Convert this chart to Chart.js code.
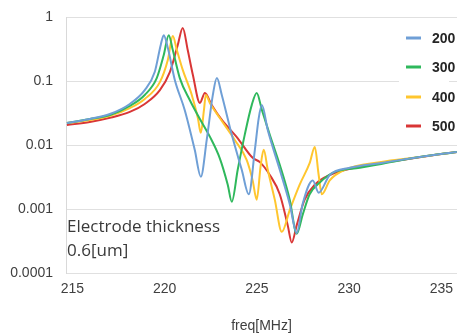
<!DOCTYPE html>
<html>
<head>
<meta charset="utf-8">
<script src="https://cdn.jsdelivr.net/npm/chart.js@4/dist/chart.umd.min.js"></script>
<style>
html,body{margin:0;padding:0;background:#fff;}
#wrap{width:459px;height:335px;position:relative;}
</style>
</head>
<body>
<div id="wrap"><canvas id="c" width="459" height="335"></canvas></div>
<script>
// ---- data (freq in MHz, magnitude) ----
const seriesNames = ["200", "300", "400", "500"];
const freq200 = [214.7,215.94,217.03,218.11,218.92,219.46,219.79,219.95,220.17,220.55,221.09,221.63,221.96,222.28,222.61,222.83,223.10,223.64,224.18,224.56,224.89,225.10,225.27,225.59,226.24,226.78,227.16,227.48,228.03,228.35,228.95,230.04,231.66,233.83,235.84];
const val200  = [0.022,0.0255,0.0305,0.0438,0.072,0.138,0.37,0.52,0.33,0.104,0.035,0.0084,0.0032,0.012,0.06,0.111,0.06,0.0144,0.0041,0.0017,0.0084,0.0263,0.042,0.0171,0.0041,0.0012,0.00042,0.0012,0.0028,0.0018,0.0034,0.0044,0.0052,0.0065,0.0078];
const freq300 = [214.7,215.94,217.03,218.11,218.92,219.57,219.95,220.22,220.44,220.82,221.36,221.91,222.45,222.99,223.42,223.64,223.96,224.34,224.72,224.99,225.27,225.70,226.24,226.78,227.16,227.48,227.86,228.41,229.22,230.58,231.66,233.83,235.84];
const val300  = [0.022,0.0255,0.0294,0.0407,0.0605,0.111,0.255,0.52,0.305,0.111,0.0505,0.0255,0.0135,0.0062,0.0024,0.0013,0.0041,0.0144,0.042,0.065,0.0354,0.0144,0.0049,0.0014,0.00041,0.00081,0.0017,0.0026,0.0038,0.0044,0.0050,0.0065,0.0078];
const freq400 = [214.7,215.94,217.03,218.11,218.92,219.74,220.17,220.44,220.66,220.98,221.47,221.80,221.96,222.13,222.23,222.45,222.99,223.80,224.45,224.77,224.99,225.21,225.37,225.59,225.97,226.35,226.78,227.32,227.86,228.14,228.35,228.52,228.95,229.76,231.66,233.83,235.84];
const val400  = [0.022,0.0245,0.0285,0.0377,0.0525,0.096,0.213,0.505,0.305,0.149,0.0605,0.0264,0.0155,0.0354,0.0605,0.0455,0.0264,0.012,0.0058,0.0028,0.0014,0.0049,0.0084,0.0041,0.0014,0.00044,0.00096,0.0024,0.0052,0.0093,0.0034,0.0017,0.0028,0.0041,0.0054,0.0065,0.0078];
const freq500 = [214.7,215.94,217.03,218.11,218.92,219.74,220.28,220.71,220.98,221.25,221.53,221.91,222.18,222.55,223.10,223.91,224.77,225.16,225.70,226.24,226.67,226.89,227.16,227.59,228.14,228.95,230.58,232.75,235.84];
const val500  = [0.0206,0.0229,0.0266,0.0329,0.0438,0.072,0.138,0.365,0.673,0.305,0.124,0.0455,0.065,0.0422,0.0246,0.0133,0.0063,0.0054,0.0034,0.0017,0.00056,0.0003,0.00056,0.0014,0.0024,0.0034,0.0046,0.0058,0.0078];
const xTicks = [215, 220, 225, 230, 235];
const yTicks = [1, 0.1, 0.01, 0.001, 0.0001];
const yTickLabels = ["1", "0.1", "0.01", "0.001", "0.0001"];
const noteLines = ["Electrode thickness", "0.6[um]"];
const xTitle = "freq[MHz]";

const colors = ["#6f9fd6", "#2fb85c", "#ffc62e", "#d93636"];
const freqs = [freq200, freq300, freq400, freq500];
const vals = [val200, val300, val400, val500];

const datasets = seriesNames.map((n, k) => ({
  label: n,
  data: freqs[k].map((f, i) => ({x: f, y: vals[k][i]})),
  borderColor: colors[k],
  backgroundColor: colors[k],
  borderWidth: 2,
  pointRadius: 0,
  cubicInterpolationMode: 'monotone',
  fill: false
}));

const tickFont = {family: "'Liberation Sans Narrow','Liberation Sans',Arial,sans-serif", size: 14};

const overlay = {
  id: 'overlay',
  afterDraw(chart) {
    const ctx = chart.ctx;
    ctx.save();
    // legend
    ctx.fillStyle = '#fff';
    ctx.fillRect(399, 26, 50, 108);
    const ys = [38, 67, 97, 126];
    seriesNames.forEach((n, k) => {
      ctx.strokeStyle = colors[k];
      ctx.lineWidth = 3;
      ctx.beginPath();
      ctx.moveTo(406, ys[k]);
      ctx.lineTo(421, ys[k]);
      ctx.stroke();
      ctx.fillStyle = '#262626';
      ctx.font = "bold 14px 'Liberation Sans', Arial, sans-serif";
      ctx.textBaseline = 'middle';
      ctx.textAlign = 'left';
      ctx.fillText(n, 432, ys[k] + 1);
    });
    // annotation
    ctx.fillStyle = '#3a3a3a';
    ctx.font = "17px 'Open Sans', sans-serif";
    ctx.textBaseline = 'alphabetic';
    ctx.fillText(noteLines[0], 67, 232);
    ctx.fillText(noteLines[1], 67, 256);
    ctx.restore();
  }
};

new Chart(document.getElementById('c'), {
  type: 'line',
  data: {datasets},
  plugins: [overlay],
  options: {
    responsive: false,
    animation: false,
    layout: {padding: {top: 17, right: 2, left: 0, bottom: 0}},
    plugins: {legend: {display: false}, tooltip: {enabled: false}},
    scales: {
      x: {
        type: 'linear',
        min: 214.65, max: 235.85,
        afterBuildTicks(s) { s.ticks = xTicks.map(v => ({value: v})); },
        afterFit(s) { s.height = 62; s.paddingLeft = 0; s.paddingRight = 0; },
        grid: {display: false, drawTicks: false},
        border: {display: false},
        ticks: {color: '#404040', font: tickFont, padding: 8, maxRotation: 0},
        title: {display: true, text: xTitle, color: '#404040', font: {family: tickFont.family, size: 14}, padding: {top: 16, bottom: 0}}
      },
      y: {
        type: 'logarithmic',
        min: 0.0001, max: 1,
        afterBuildTicks(s) { s.ticks = yTicks.map(v => ({value: v})); },
        afterFit(s) { s.width = 66; s.paddingTop = 0; s.paddingBottom = 0; },
        grid: {color: '#e0e0e0', drawTicks: false, lineWidth: 1},
        border: {display: true, color: '#d9d9d9'},
        ticks: {
          color: '#404040', font: tickFont, padding: 13,
          callback(v) { const i = yTicks.indexOf(v); return i >= 0 ? yTickLabels[i] : ''; }
        }
      }
    }
  }
});
</script>
</body>
</html>
